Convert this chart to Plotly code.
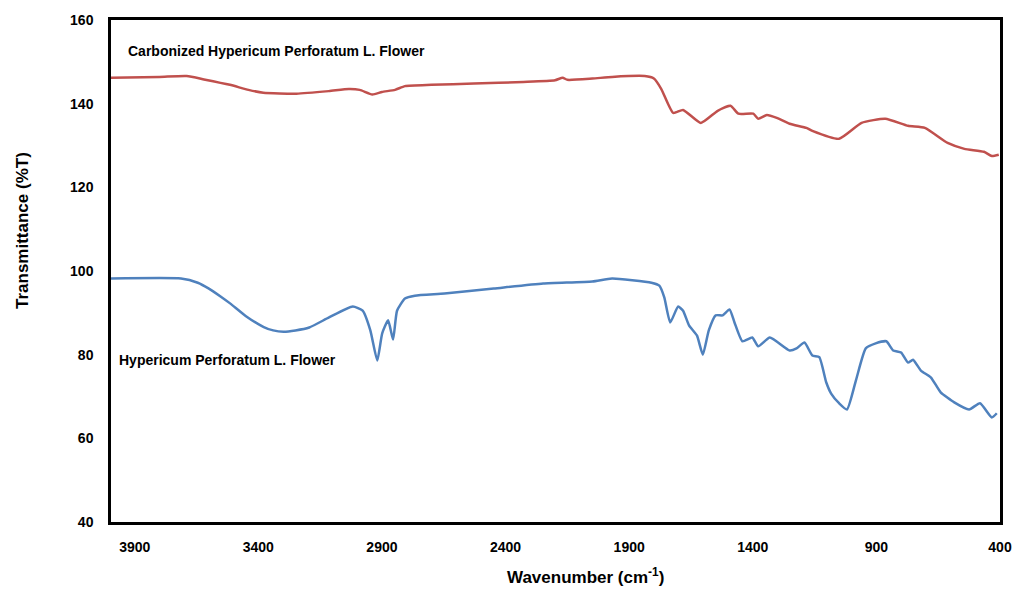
import plotly.graph_objects as go

# Carbonized Hypericum Perforatum L. Flower (red)
carb_wn = [3996, 3800, 3690, 3620, 3515, 3440, 3380, 3246, 3115, 3034, 2990, 2939, 2900, 2847,
           2807, 2700, 2528, 2328, 2200, 2169, 2150, 2049, 1969, 1837, 1800, 1770,
           1722, 1682, 1610, 1542, 1490, 1458, 1398, 1378, 1343, 1303, 1251, 1183,
           1159, 1051, 960, 864, 772, 704, 612, 544, 465, 433, 405]
carb_t = [146.2, 146.4, 146.6, 145.8, 144.5, 143.3, 142.6, 142.4, 143.0, 143.5, 143.3, 142.2, 142.8, 143.3,
          144.2, 144.5, 144.8, 145.2, 145.6, 146.2, 145.7, 146.0, 146.4, 146.6, 146.0, 143.5,
          137.8, 138.5, 135.4, 138.3, 139.5, 137.6, 137.6, 136.4, 137.3, 136.6, 135.2, 134.2,
          133.5, 131.6, 135.4, 136.4, 134.7, 134.2, 130.6, 129.2, 128.5, 127.5, 127.8]

# Hypericum Perforatum L. Flower (blue)
raw_wn = [3996, 3713, 3645, 3600, 3550, 3513, 3450, 3378, 3340, 3298, 3250, 3194, 3114, 3018,
          2978, 2947, 2919, 2899, 2875, 2855, 2839, 2807, 2767, 2647, 2448, 2248, 2049, 1969, 1810,
          1778, 1758, 1734, 1702, 1682, 1658, 1626, 1602, 1578, 1550, 1522, 1494,
          1474, 1442, 1402, 1378, 1331, 1251, 1223, 1191, 1159, 1131, 1103, 1083,
          1051, 1019, 983, 943, 903, 860, 832, 800, 772, 752, 720, 680, 640, 585,
          525, 481, 433, 413]
raw_t = [98.2, 98.2, 97.2, 95.8, 93.8, 92.2, 89.2, 86.6, 85.8, 85.5, 85.8, 86.5, 88.9, 91.5,
         90.5, 85.8, 78.6, 85.1, 88.2, 83.6, 90.5, 93.4, 94.1, 94.6, 95.8, 97.0, 97.5, 98.2, 97.2,
         96.5, 93.7, 87.7, 91.5, 90.5, 87.0, 84.6, 80.0, 85.8, 89.4, 89.4, 90.8,
         87.7, 83.2, 84.1, 82.0, 84.1, 81.0, 81.5, 82.9, 79.8, 79.4, 73.4, 70.7,
         68.4, 66.9, 73.8, 81.5, 82.7, 83.2, 81.0, 80.5, 78.1, 78.8, 76.2, 74.6, 71.0, 68.6,
         66.9, 68.4, 65.0, 66.0]

x_ticks = [3900, 3400, 2900, 2400, 1900, 1400, 900, 400]
y_ticks = [40, 60, 80, 100, 120, 140, 160]

FONT = "Liberation Sans, Arial, sans-serif"
tick_font = dict(family=FONT, size=14, color="black")

fig = go.Figure()
fig.add_trace(go.Scatter(x=carb_wn, y=carb_t, mode="lines",
                         line=dict(color="#C0504D", width=2.5, shape="spline", smoothing=0.5),
                         showlegend=False))
fig.add_trace(go.Scatter(x=raw_wn, y=raw_t, mode="lines",
                         line=dict(color="#4F81BD", width=2.5, shape="spline", smoothing=0.5),
                         showlegend=False))

fig.add_annotation(x=0.017, y=152.5, xref="paper", yref="y", xanchor="left", yanchor="middle",
                   text="<b>Carbonized Hypericum Perforatum L. Flower</b>", showarrow=False,
                   font=dict(family=FONT, size=14, color="black"))
fig.add_annotation(x=0.007, y=78.8, xref="paper", yref="y", xanchor="left", yanchor="middle",
                   text="<b>Hypericum Perforatum L. Flower</b>", showarrow=False,
                   font=dict(family=FONT, size=14, color="black"))

# axis titles
fig.add_annotation(x=0.534, y=-0.107, xref="paper", yref="paper", xanchor="center", yanchor="middle",
                   text="<b>Wavenumber (cm<sup>-1</sup>)</b>", showarrow=False,
                   font=dict(family=FONT, size=17, color="black"))
fig.add_annotation(x=-0.0988, y=0.58, xref="paper", yref="paper", xanchor="center", yanchor="middle",
                   text="<b>Transmittance (%T)</b>", showarrow=False, textangle=-90,
                   font=dict(family=FONT, size=17, color="black"))

fig.update_layout(
    width=1024, height=594,
    margin=dict(l=111, r=12, t=19, b=72),
    paper_bgcolor="white", plot_bgcolor="white",
    xaxis=dict(range=[3996, 400], tickvals=x_ticks, ticktext=[f"<b>{v}</b>" for v in x_ticks],
               showgrid=False, zeroline=False, showline=True, linecolor="black", linewidth=2.5,
               mirror=True, ticks="", ticklabelstandoff=10, tickfont=tick_font),
    yaxis=dict(range=[40, 160], tickvals=y_ticks, ticktext=[f"<b>{v}</b>" for v in y_ticks],
               showgrid=False, zeroline=False, showline=True, linecolor="black", linewidth=2.5,
               mirror=True, ticks="", ticklabelstandoff=12, tickfont=tick_font),
)

fig.write_html("out.html")
